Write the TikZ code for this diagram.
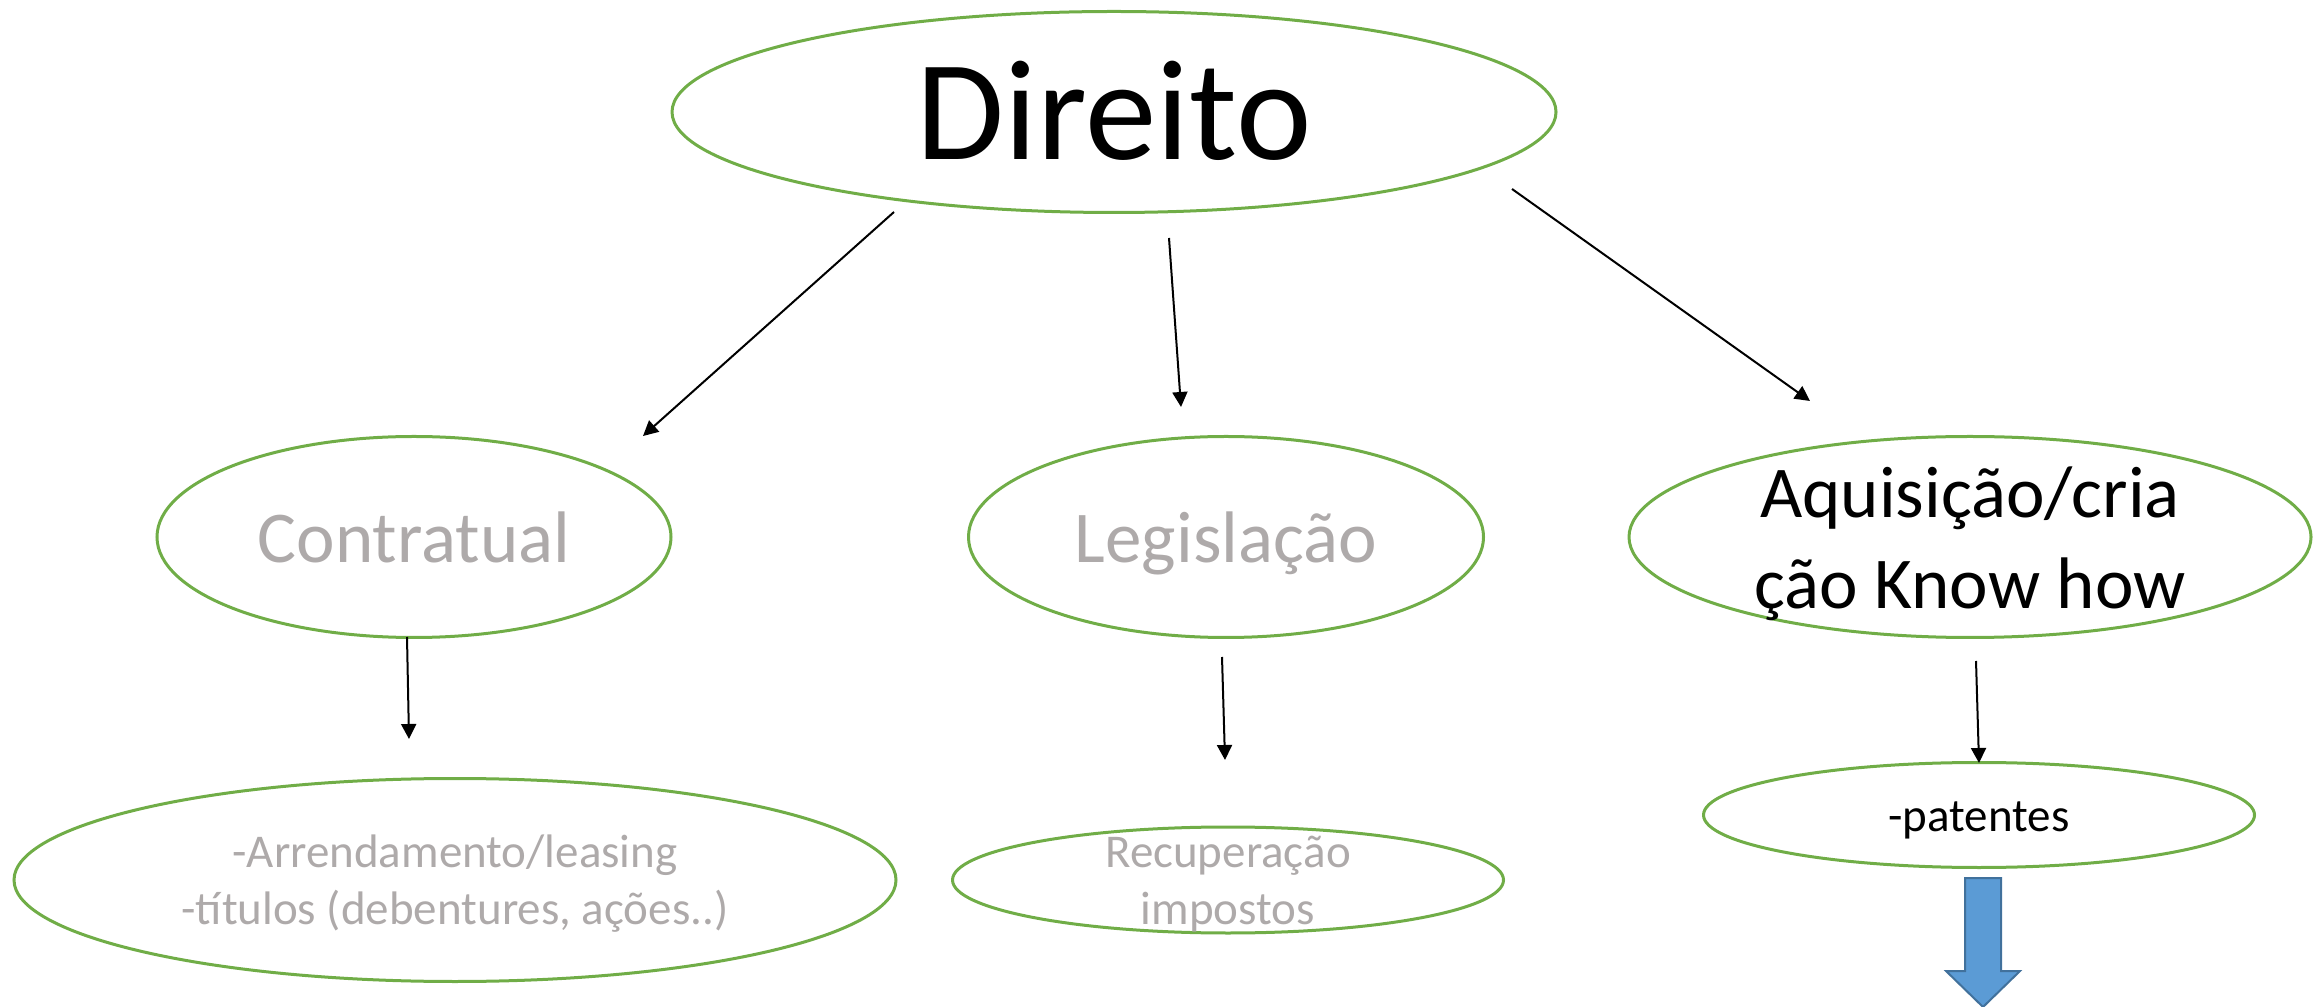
\documentclass[tikz,border=0pt]{standalone}
\usepackage{fontspec}
\setmainfont{Carlito}
\usetikzlibrary{arrows.meta, shapes.geometric}
\definecolor{verde}{HTML}{70AD47}
\definecolor{cinza}{HTML}{AEAAAA}
\definecolor{azul}{HTML}{5B9BD5}
\definecolor{azulborda}{HTML}{41719C}

\begin{document}
\begin{tikzpicture}[x=0.3pt,y=-0.3pt,
	balao/.style 2 args={shape=ellipse, draw=verde, line width=0.9pt, inner sep=0pt,
		minimum width=#1*0.3pt, minimum height=#2*0.3pt, align=center},
	seta/.style={-{Triangle[length=4.5pt,width=4.5pt]}, line width=0.6pt},
	grande/.style={font=\fontsize{42.9}{52.3}\selectfont},
	medio/.style={font=\fontsize{21.9}{27.3}\selectfont},
	pequeno/.style={font=\fontsize{14.1}{17.1}\selectfont}
	]
	\useasboundingbox (0,0) rectangle (2323,1007);
	
	\node[balao={884}{201}, grande, text height=28.8pt, text depth=0pt] (direito) at (1114,112) {Direito};
	
	\node[balao={514}{201}, medio, text=cinza, text height=15.3pt, text depth=0pt] (contratual) at (414,537) {Contratual};
	\node[balao={515}{201}, medio, text=cinza, text height=15.3pt, text depth=0pt] (legislacao) at (1226,537) {Legislação};
	\node[balao={682}{201}, medio, text height=42.9pt, text depth=0pt, inner ysep=-2pt] (aquisicao) at (1970,537) {Aquisição/cria\\ção Know how};
	
	\node[balao={882}{203}, pequeno, text=cinza, text height=26.4pt, text depth=0pt] (arrendamento) at (455,880) {-Arrendamento/leasing\\-títulos (debentures, ações..)};
	\node[balao={551}{106}, pequeno, text=cinza, text height=26.4pt, text depth=0pt, inner ysep=-4pt] (recuperacao) at (1228,880) {Recuperação\\impostos};
	\node[balao={551}{105}, pequeno, text height=9.9pt, text depth=0pt] (patentes) at (1979,815) {-patentes};
	
	\coordinate (d1) at (894,212);  \coordinate (c0) at (643,436);
	\coordinate (d2) at (1169,238); \coordinate (l0) at (1181,407);
	\coordinate (d3) at (1512,189); \coordinate (a0) at (1810,401);
	\coordinate (c1) at (407,637);  \coordinate (r0) at (409,739);
	\coordinate (l1) at (1222,657); \coordinate (i0) at (1225,760);
	\coordinate (a1) at (1976,661); \coordinate (p0) at (1979,763);
	
	\draw[seta] (d1) -- (c0);
	\draw[seta] (d2) -- (l0);
	\draw[seta] (d3) -- (a0);
	\draw[seta] (c1) -- (r0);
	\draw[seta] (l1) -- (i0);
	\draw[seta] (a1) -- (p0);
	
	\draw[fill=azul, draw=azulborda, line width=0.6pt] (1965,878) -- (2001,878) -- (2001,971) -- (2020,971)
		-- (1983,1007) -- (1946,971) -- (1965,971) -- cycle;
\end{tikzpicture}
\end{document}
